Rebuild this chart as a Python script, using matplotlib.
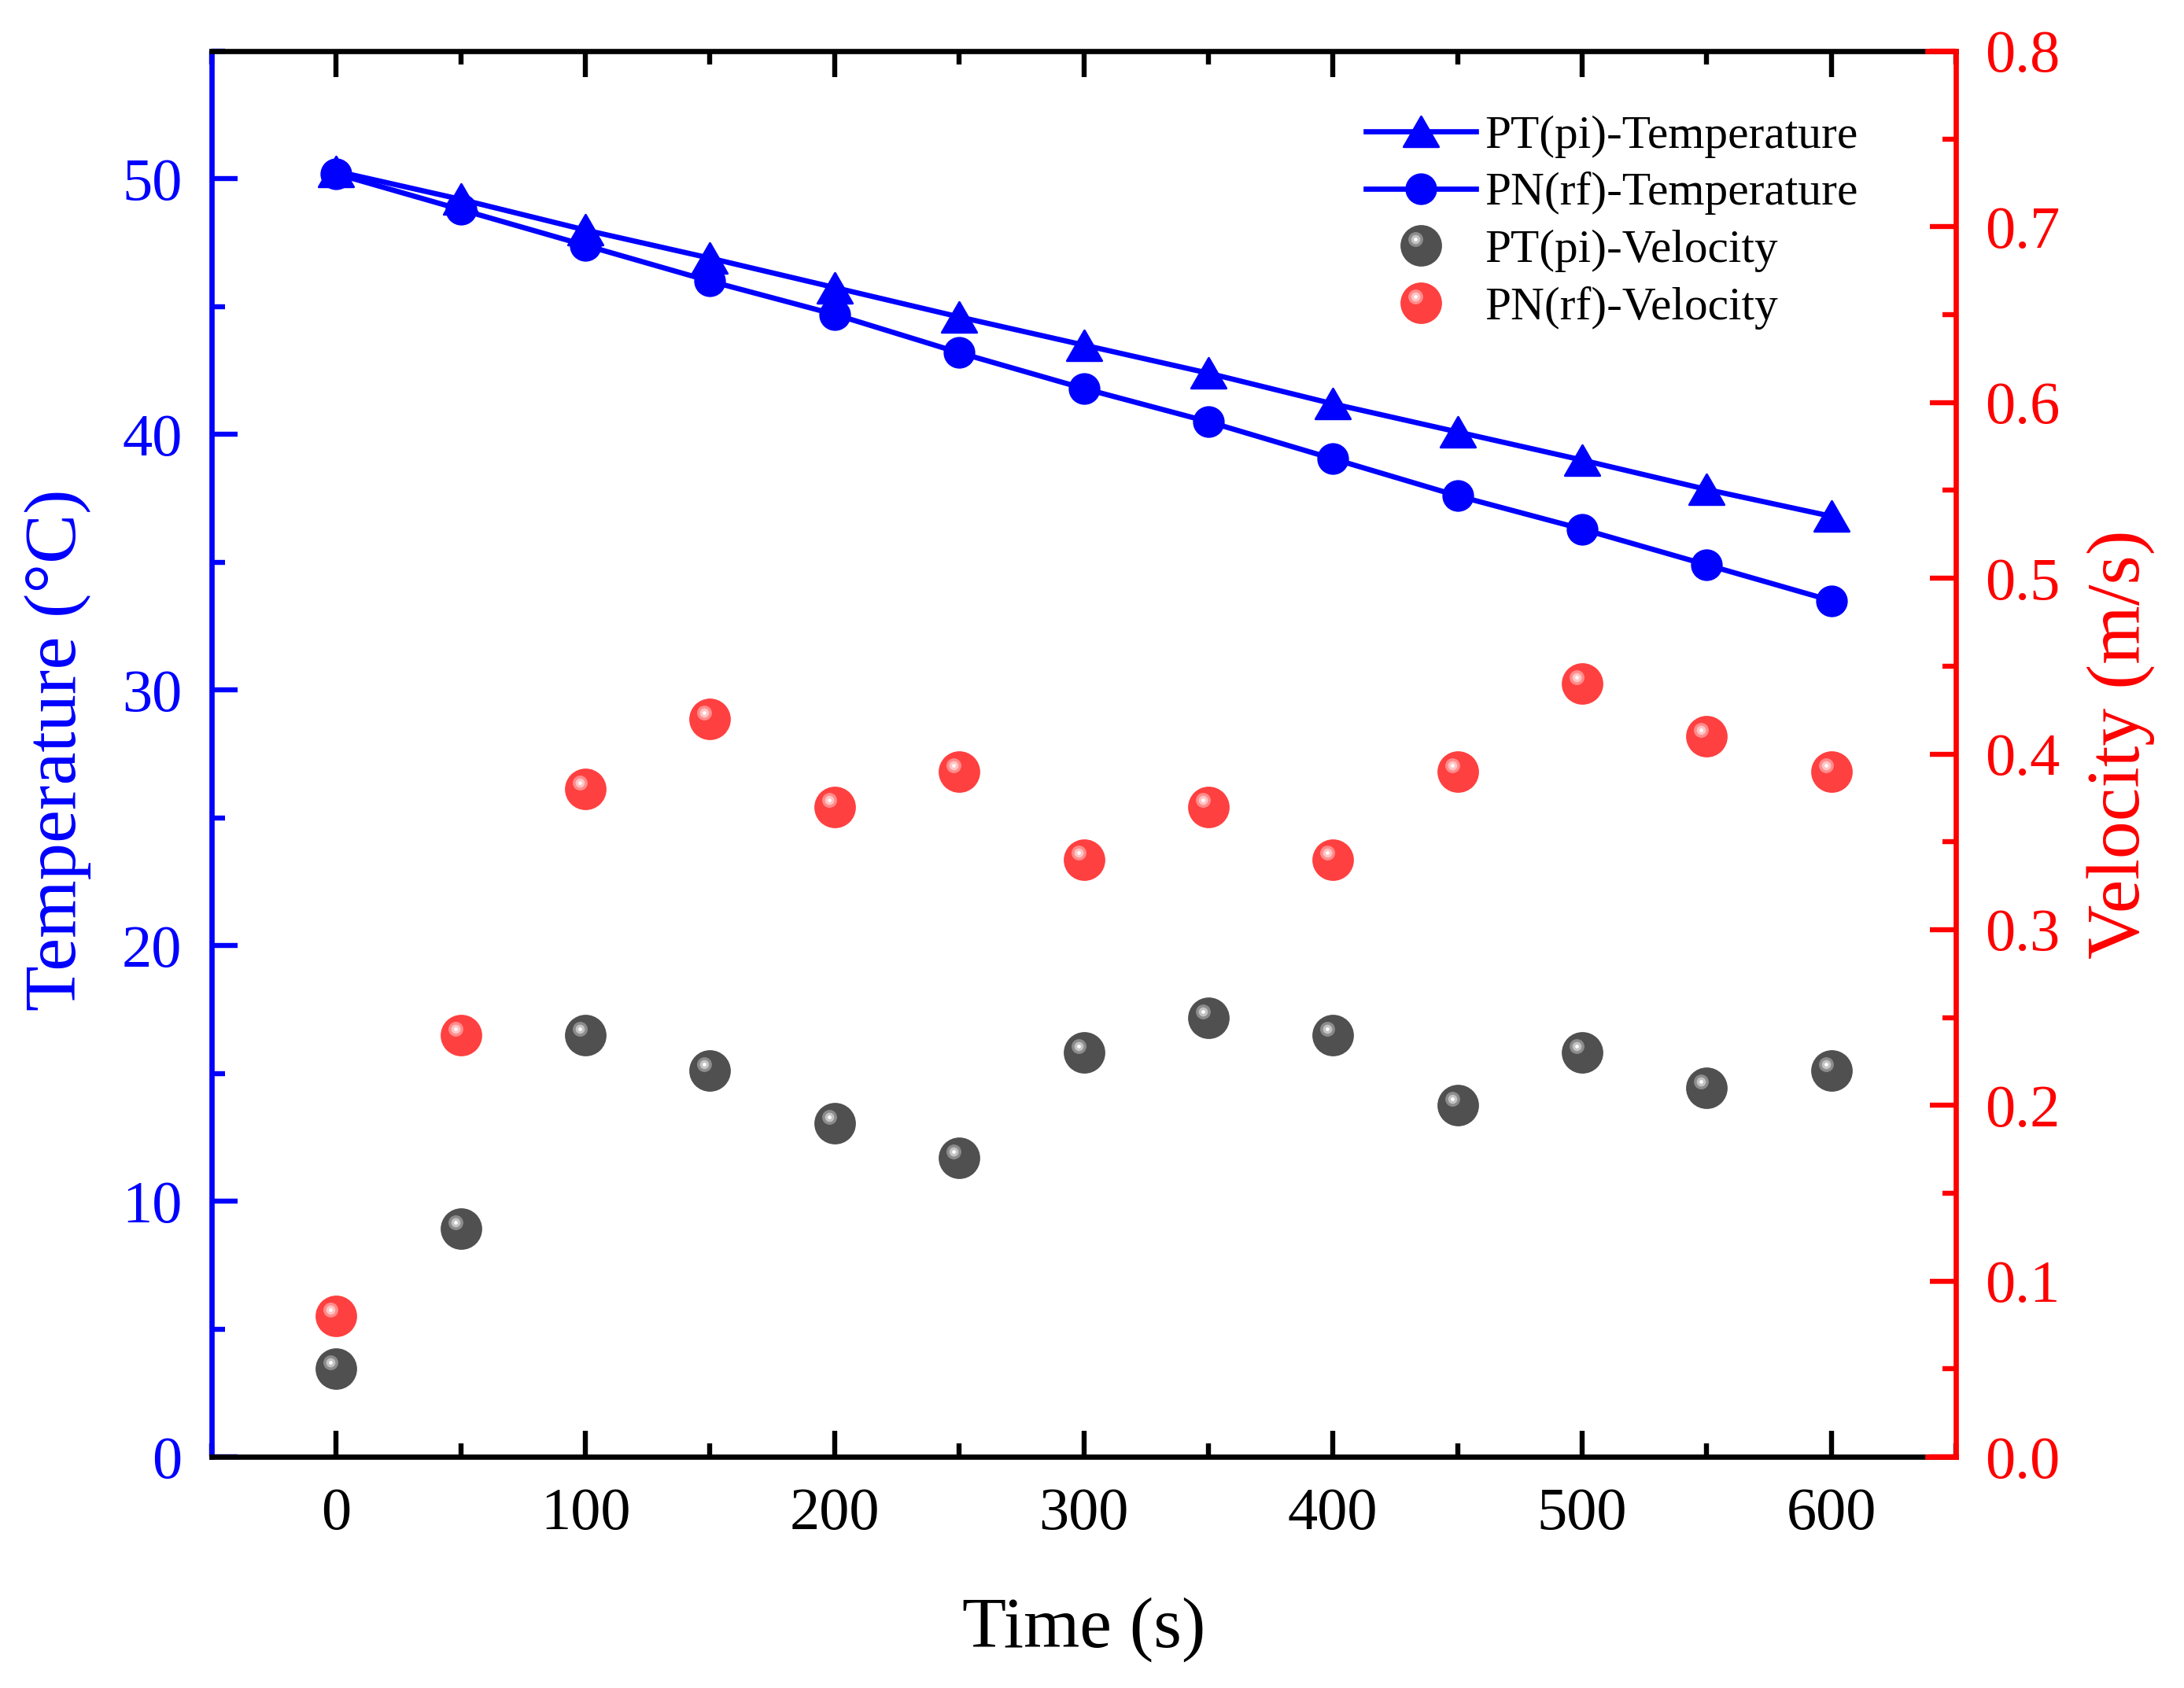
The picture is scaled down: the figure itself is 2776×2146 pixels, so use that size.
import numpy as np
import matplotlib
matplotlib.use('Agg')
import matplotlib.pyplot as plt
from matplotlib.path import Path
from matplotlib.lines import Line2D
from matplotlib.legend_handler import HandlerBase
from matplotlib.ticker import MultipleLocator
import matplotlib.transforms as mtransforms

# ---------------- data ----------------
time_s = [0, 50, 100, 150, 200, 250, 300, 350, 400, 450, 500, 550, 600]
pt_temp = [50.3, 49.2, 48.0, 46.9, 45.75, 44.6, 43.5, 42.4, 41.2, 40.1, 39.0, 37.85, 36.8]
pn_temp = [50.2, 48.8, 47.4, 46.0, 44.7, 43.2, 41.8, 40.5, 39.05, 37.6, 36.3, 34.9, 33.5]
pt_vel = [0.05, 0.13, 0.24, 0.22, 0.19, 0.17, 0.23, 0.25, 0.24, 0.20, 0.23, 0.21, 0.22]
pn_vel = [0.08, 0.24, 0.38, 0.42, 0.37, 0.39, 0.34, 0.37, 0.34, 0.39, 0.44, 0.41, 0.39]

x_ticks = [0, 100, 200, 300, 400, 500, 600]
left_ticks = [0, 10, 20, 30, 40, 50]
right_ticks = [0.0, 0.1, 0.2, 0.3, 0.4, 0.5, 0.6, 0.7, 0.8]
right_ticklabels = ['0.0', '0.1', '0.2', '0.3', '0.4', '0.5', '0.6', '0.7', '0.8']

labels = ['PT(pi)-Temperature', 'PN(rf)-Temperature', 'PT(pi)-Velocity', 'PN(rf)-Velocity']

# ---------------- style ----------------
plt.rcParams['font.family'] = ['Liberation Serif', 'DejaVu Serif']
BLUE = '#0000FF'
RED = '#FF0000'
DPI = 200
W, H = 2776, 2146

fig = plt.figure(figsize=(W / DPI, H / DPI), dpi=DPI)
ax = fig.add_axes([269 / W, 1 - 1852 / H, (2486 - 269) / W, (1852 - 65) / H])
ax2 = ax.twinx()

tri = Path([(0, 1), (-1.15, -1), (1.15, -1), (0, 1)],
           [Path.MOVETO, Path.LINETO, Path.LINETO, Path.CLOSEPOLY])

l1, = ax.plot(time_s, pt_temp, color=BLUE, lw=2.4, marker=tri, ms=16,
              mfc=BLUE, mec=BLUE, label=labels[0], zorder=3)
l2, = ax.plot(time_s, pn_temp, color=BLUE, lw=2.4, marker='o', ms=13.5,
              mfc=BLUE, mec=BLUE, label=labels[1], zorder=3)

HX, HY = -2.5, 2.9
gray_layers = [('#505050', 19, 0, 0), ('#8C8C8C', 6.8, HX, HY),
               ('#C4C4C4', 4.2, HX, HY), ('#FFFFFF', 1.7, HX, HY)]
red_layers = [('#FF4040', 19, 0, 0), ('#FF8C8C', 6.8, HX, HY),
              ('#FFC4C4', 4.2, HX, HY), ('#FFFFFF', 1.7, HX, HY)]


def draw_spheres(axis, x, y, layers, label):
    first = None
    for color, ms, dx, dy in layers:
        tr = axis.transData + mtransforms.ScaledTranslation(dx / 72, dy / 72, fig.dpi_scale_trans)
        ln, = axis.plot(x, y, ls='none', marker='o', ms=ms, mfc=color, mec='none',
                        transform=tr, label=label if first is None else '_nolegend_', zorder=4)
        if first is None:
            first = ln
    return first


s1 = draw_spheres(ax2, time_s, pt_vel, gray_layers, labels[2])
s2 = draw_spheres(ax2, time_s, pn_vel, red_layers, labels[3])


class SphereHandler(HandlerBase):
    def __init__(self, layers):
        super().__init__()
        self.layers = layers

    def create_artists(self, legend, orig_handle, xdescent, ydescent, width, height, fontsize, trans):
        cx = width / 2 - xdescent
        cy = height / 2 - ydescent
        arts = []
        for color, ms, dx, dy in self.layers:
            a = Line2D([cx + dx], [cy + dy], ls='none', marker='o', ms=ms, mfc=color, mec='none')
            a.set_transform(trans)
            arts.append(a)
        return arts


# ---------------- axes ----------------
ax.set_xlim(-50, 650)
ax.set_ylim(0, 55)
ax2.set_ylim(0, 0.8)

ax.set_xticks(x_ticks)
ax.xaxis.set_minor_locator(MultipleLocator(50))
ax.set_yticks(left_ticks)
ax.yaxis.set_minor_locator(MultipleLocator(5))
ax2.set_yticks(right_ticks)
ax2.set_yticklabels(right_ticklabels)
ax2.yaxis.set_minor_locator(MultipleLocator(0.05))

TW = 2.3
ax.tick_params(axis='x', which='both', direction='in', top=True, bottom=True,
               color='black', labelcolor='black', labelsize=27.5, pad=14, width=TW)
ax.tick_params(axis='y', which='both', direction='in', left=True, right=False,
               color=BLUE, labelcolor=BLUE, labelsize=27.5, pad=13.5, width=TW)
ax2.tick_params(axis='y', which='both', direction='in', right=True, left=False,
                color=RED, labelcolor=RED, labelsize=27.5, pad=13.5, width=TW)
for a in (ax, ax2):
    a.tick_params(which='major', length=12)
    a.tick_params(which='minor', length=6)

SW = 2.4
ax.spines['left'].set_color(BLUE)
ax.spines['left'].set_linewidth(SW)
ax.spines['top'].set_linewidth(SW)
ax.spines['bottom'].set_linewidth(SW)
ax.spines['right'].set_visible(False)
for s in ('left', 'top', 'bottom'):
    ax2.spines[s].set_visible(False)
ax2.spines['right'].set_color(RED)
ax2.spines['right'].set_linewidth(SW)
for yy in (0, 1):
    ax2.plot([0.9838, 1.0], [yy, yy], transform=ax2.transAxes, color=RED, lw=SW,
             clip_on=False, solid_capstyle='projecting', zorder=5)

ax.set_xlabel('Time (s)', fontsize=33, color='black')
ax.set_ylabel('Temperature (°C)', fontsize=34, color=BLUE)
ax2.set_ylabel('Velocity (m/s)', fontsize=34.5, color=RED)
ax.xaxis.set_label_coords(0.5, -0.100)
ax.yaxis.set_label_coords(-0.069, 0.503)
ax2.yaxis.set_label_coords(1.075, 0.507)

leg = ax2.legend(handles=[l1, l2, s1, s2], labels=labels,
                 handler_map={s1: SphereHandler(gray_layers), s2: SphereHandler(red_layers)},
                 loc='upper left', bbox_to_anchor=(1736 / W, 1 - 146 / H),
                 bbox_transform=fig.transFigure, frameon=False, fontsize=21.4,
                 handlelength=2.35, handletextpad=0.2, labelspacing=0.3,
                 borderpad=0, borderaxespad=0)

fig.savefig('out.png', dpi=DPI)
